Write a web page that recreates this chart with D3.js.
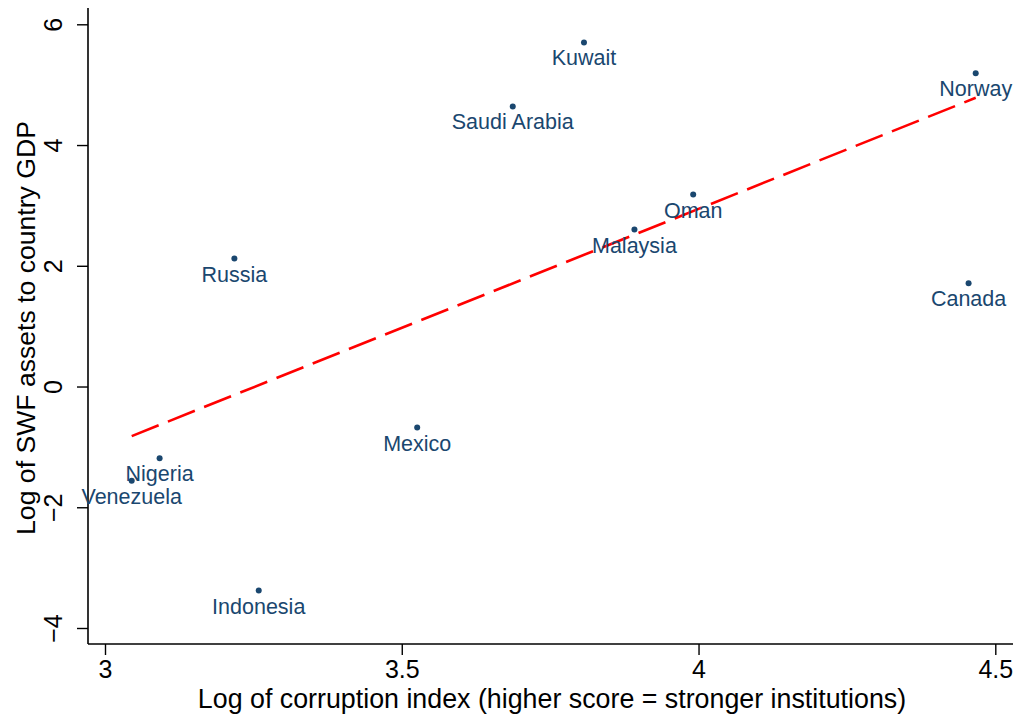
<!DOCTYPE html>
<html>
<head>
<meta charset="utf-8">
<script src="https://cdn.jsdelivr.net/npm/d3@7/dist/d3.min.js"></script>
<style>
  html, body { margin: 0; padding: 0; background: #fff; }
  svg { display: block; font-family: "Liberation Sans", Arial, Helvetica, sans-serif; }
</style>
</head>
<body>
<svg id="chart" width="1021" height="721"></svg>
<script>
// Countries and their values
const countries = ["Kuwait", "Norway", "Saudi Arabia", "Oman", "Malaysia", "Russia",
                   "Canada", "Mexico", "Nigeria", "Venezuela", "Indonesia"];
const logCorruption = [3.807, 4.467, 3.687, 3.991, 3.892, 3.218, 4.455, 3.526, 3.092, 3.045, 3.259];
const logSwfGdp     = [5.70, 5.19, 4.64, 3.18, 2.60, 2.12, 1.71, -0.68, -1.19, -1.56, -3.38];

const xTicks = [3, 3.5, 4, 4.5];
const yTicks = [-4, -2, 0, 2, 4, 6];

const navy = "#1a476f";
const svg = d3.select("#chart");

const x = d3.scaleLinear().domain([3, 4.5]).range([105, 995.3]);
const y = d3.scaleLinear().domain([-4, 6]).range([628, 24.3]);

// plot region edges (axes extend a little past the outer ticks)
const plotLeft = 88, plotRight = 1013, plotTop = 8, plotBottom = 644;

// axes
const xAxis = svg.append("g").attr("transform", `translate(0,${plotBottom})`)
  .call(d3.axisBottom(x).tickValues(xTicks).tickSize(11).tickPadding(5)
        .tickFormat(d3.format("~g")));
xAxis.select(".domain").remove();
xAxis.selectAll("line").attr("stroke", "#000").attr("stroke-width", 1.4);
xAxis.selectAll("text").attr("font-size", 25).attr("fill", "#000")
  .attr("dy", "0.71em");
svg.append("line").attr("x1", plotLeft).attr("x2", plotRight)
  .attr("y1", plotBottom).attr("y2", plotBottom)
  .attr("stroke", "#000").attr("stroke-width", 1.6);

const yAxis = svg.append("g").attr("transform", `translate(${plotLeft},0)`)
  .call(d3.axisLeft(y).tickValues(yTicks).tickSize(11).tickFormat(d3.format("~g")));
yAxis.select(".domain").remove();
yAxis.selectAll("line").attr("stroke", "#000").attr("stroke-width", 1.4);
yAxis.selectAll("text").remove();
yAxis.selectAll(".tick").append("text")
  .attr("transform", "translate(-26,0) rotate(-90)")
  .attr("text-anchor", "middle")
  .attr("font-size", 25)
  .attr("fill", "#000")
  .text(d => d3.format("~g")(d).replace("-", "\u2212"));
svg.append("line").attr("x1", plotLeft).attr("x2", plotLeft)
  .attr("y1", plotTop).attr("y2", plotBottom)
  .attr("stroke", "#000").attr("stroke-width", 1.6);

// axis titles
svg.append("text").attr("x", 552).attr("y", 708)
  .attr("text-anchor", "middle").attr("font-size", 26.8).attr("fill", "#000")
  .text("Log of corruption index (higher score = stronger institutions)");
svg.append("text").attr("transform", "translate(34.5,328) rotate(-90)")
  .attr("text-anchor", "middle").attr("font-size", 26.6).attr("fill", "#000")
  .text("Log of SWF assets to country GDP");

// linear fit over the observed range
const pts = countries.map((c, i) => ({ c, x: logCorruption[i], y: logSwfGdp[i] }));
const mx = d3.mean(pts, d => d.x), my = d3.mean(pts, d => d.y);
const slope = d3.sum(pts, d => (d.x - mx) * (d.y - my)) / d3.sum(pts, d => (d.x - mx) ** 2);
const intercept = my - slope * mx;
const [x0, x1] = d3.extent(pts, d => d.x);
svg.append("path")
  .attr("d", d3.line().x(d => x(d)).y(d => y(intercept + slope * d))([x0, x1]))
  .attr("fill", "none").attr("stroke", "#ff0000").attr("stroke-width", 2.6)
  .attr("stroke-dasharray", "29,10");

// points and labels
const g = svg.append("g");
g.selectAll("circle").data(pts).join("circle")
  .attr("cx", d => x(d.x)).attr("cy", d => y(d.y)).attr("r", 3).attr("fill", navy);
g.selectAll("text").data(pts).join("text")
  .attr("x", d => x(d.x)).attr("y", d => y(d.y) + 23)
  .attr("text-anchor", "middle").attr("font-size", 21.5).attr("fill", navy)
  .text(d => d.c);
</script>
</body>
</html>
